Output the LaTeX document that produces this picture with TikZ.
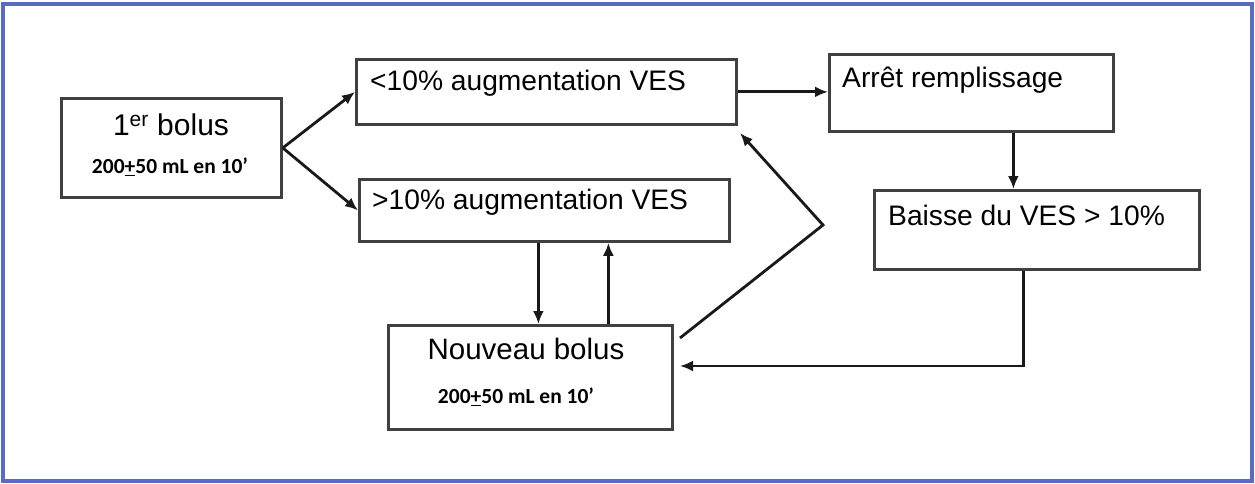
\documentclass[tikz,border=0pt]{standalone}
\usepackage{fontspec}
\setmainfont{Liberation Sans}
\newfontfamily\dosefont{Carlito}
\usetikzlibrary{positioning,arrows.meta}
\definecolor{framecol}{RGB}{88,108,196}

\begin{document}
\begin{tikzpicture}[x=1pt,y=-1pt]
    \tikzstyle{box} = [draw=black!75,line width=2.8pt,rectangle,anchor=north west,inner sep=0pt]
    \tikzstyle{boxtext} = [font=\fontsize{28.2}{31}\selectfont,inner sep=0pt]
    \tikzstyle{dose} = [font=\dosefont\bfseries\fontsize{21.5}{24}\selectfont,inner sep=0pt]
    \tikzstyle{link} = [draw=black!90,line width=2.8pt,-{Latex[length=13pt,width=11pt]}]
    \useasboundingbox (0,0) rectangle (1255,484);
    \draw[framecol,line width=4pt] (3,4) rectangle (1252,481);
    % boxes
    \node[box,minimum width=220,minimum height=99] (first) at (60,97) {};
    \node[box,minimum width=380,minimum height=65] (low) at (355,58) {};
    \node[box,minimum width=370,minimum height=62] (high) at (358,178) {};
    \node[box,minimum width=284,minimum height=77] (stop) at (828,53) {};
    \node[box,minimum width=325,minimum height=79] (drop) at (873,189) {};
    \node[box,minimum width=284,minimum height=104] (again) at (387,324) {};
    % texts
    \node[boxtext,font=\fontsize{30}{33}\selectfont] (firsttext) at (171,125) {1\textsuperscript{er} bolus};
    \node[dose] (firstdose) at (170,167) {200\underline{+}50 mL en 10’};
    \node[boxtext,anchor=west] (lowtext) at (370,83) {<10\% augmentation VES};
    \node[boxtext,anchor=west] (hightext) at (372,202) {>10\% augmentation VES};
    \node[boxtext,anchor=west] (stoptext) at (842,80) {Arrêt remplissage};
    \node[boxtext,anchor=west] (droptext) at (888,215) {Baisse du VES > 10\%};
    \node[boxtext,font=\fontsize{29.5}{32}\selectfont] (againtext) at (526,349) {Nouveau bolus};
    \node[dose] (againdose) at (516,397) {200\underline{+}50 mL en 10’};
    % connectors
    \coordinate (backin) at (680,366);
    \coordinate (loopout) at (680,338);
    \coordinate (loopbend) at (823,225);
    \coordinate (loopin) at (740,133);
    \draw[link] (first.east) -- (low.west);
    \draw[link] (first.east) -- (high.west);
    \draw[link] (low.east) -- (low.east -| stop.west);
    \draw[link] ([xshift=42pt]stop.south) -- ([xshift=42pt]stop.south |- drop.north);
    \draw[link] ([xshift=-13.5pt]drop.south) |- (backin);
    \draw[link] ([xshift=-6pt]high.south) -- ([xshift=-6pt]high.south |- again.north);
    \draw[link] ([xshift=64pt]high.south |- again.north) -- ([xshift=64pt]high.south);
    \draw[link] (loopout) -- (loopbend) -- (loopin);
\end{tikzpicture}
\end{document}
